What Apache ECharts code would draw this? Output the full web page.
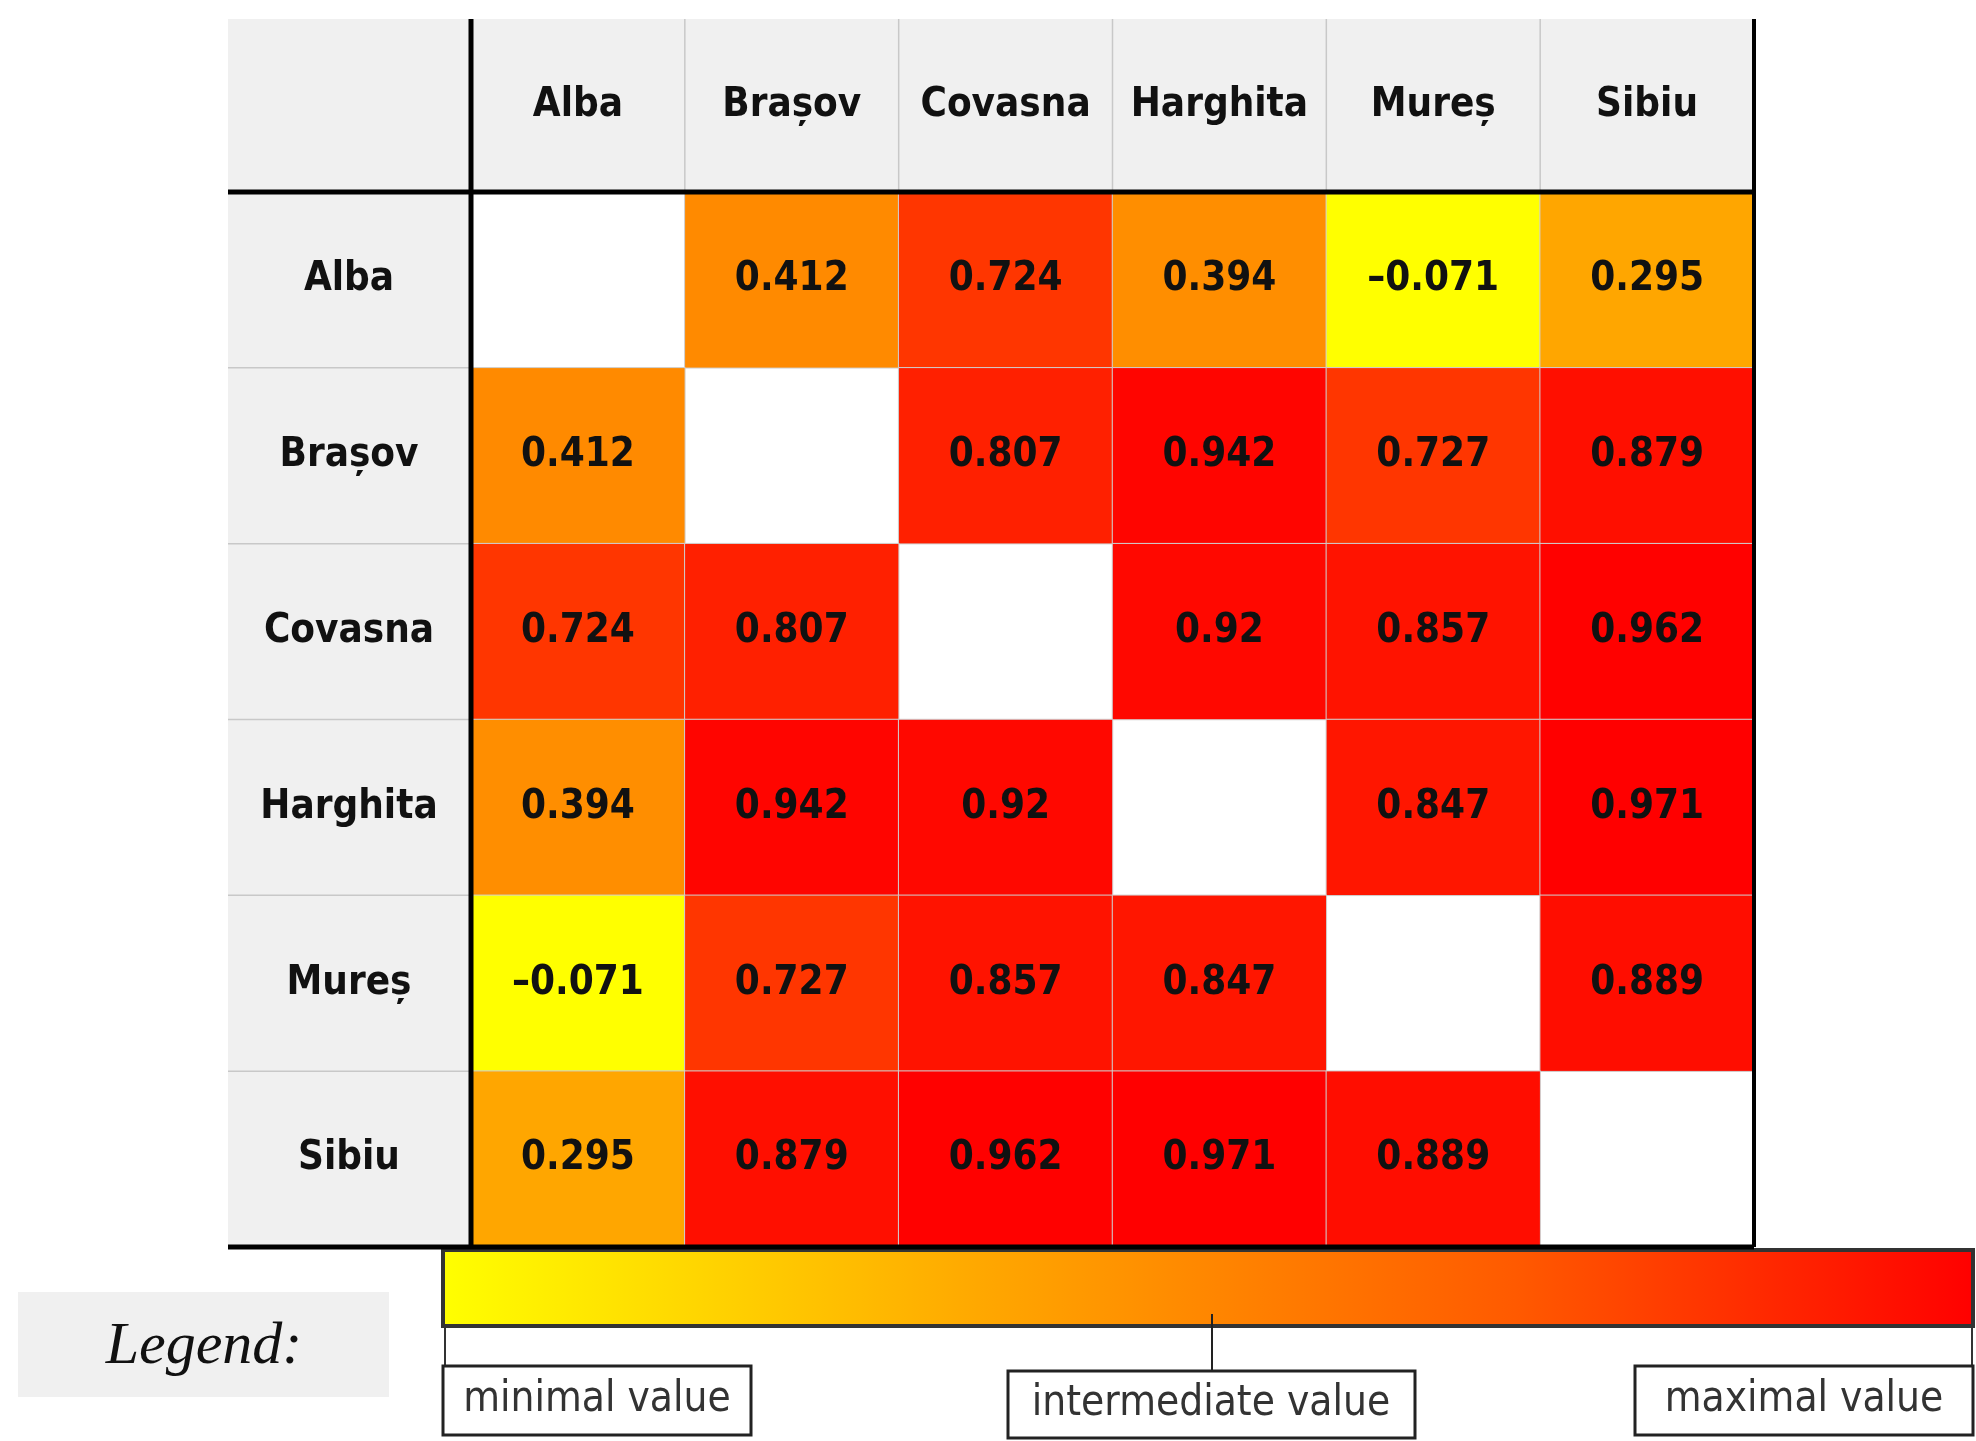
<!DOCTYPE html>
<html>
<head>
<meta charset="utf-8">
<script src="https://cdn.jsdelivr.net/npm/echarts@6/dist/echarts.min.js"></script>
<style>html,body{margin:0;background:#fff}#main{width:1976px;height:1441px}</style>
</head>
<body>
<div id="main"></div>
<script>
const counties = ["Alba", "Brașov", "Covasna", "Harghita", "Mureș", "Sibiu"]
const rowAlba = [null, 0.412, 0.724, 0.394, -0.071, 0.295]
const rowBrasov = [0.412, null, 0.807, 0.942, 0.727, 0.879]
const rowCovasna = [0.724, 0.807, null, 0.92, 0.857, 0.962]
const rowHarghita = [0.394, 0.942, 0.92, null, 0.847, 0.971]
const rowMures = [-0.071, 0.727, 0.857, 0.847, null, 0.889]
const rowSibiu = [0.295, 0.879, 0.962, 0.971, 0.889, null]
const legendLabels = ["minimal value", "intermediate value", "maximal value"]

const rows = [rowAlba, rowBrasov, rowCovasna, rowHarghita, rowMures, rowSibiu]
let data = []
rows.forEach((row, r) => {
  row.forEach((v, c) => {
    if (v !== null) data.push([c, r, v])
  })
})

const font = "DejaVu Sans Condensed"
const L = 228, X0 = 471, X1 = 1754, T = 19, Y0 = 192, Y1 = 1247

let myChart = echarts.init(document.getElementById("main"))

// light separators in the header row / column
let seps = []
for (let i = 1; i < 6; i++) {
  let x = X0 + (X1 - X0) * i / 6
  seps.push({ type: "line", shape: { x1: x, y1: T, x2: x, y2: Y0 }, style: { stroke: "#c8c8c8", lineWidth: 1.5 } })
  let y = Y0 + (Y1 - Y0) * i / 6
  seps.push({ type: "line", shape: { x1: L, y1: y, x2: X0, y2: y }, style: { stroke: "#c8c8c8", lineWidth: 1.5 } })
}

myChart.setOption({
  animation: false,
  backgroundColor: "#fff",
  grid: { left: X0, right: 1976 - X1, top: Y0, bottom: 1441 - Y1 },
  xAxis: {
    type: "category",
    data: counties,
    position: "top",
    axisLine: { show: false },
    axisTick: { show: false },
    splitArea: { show: false },
    axisLabel: { interval: 0, fontFamily: font, fontWeight: "bold", fontSize: 40, color: "#111", margin: 86, verticalAlign: "middle" },
  },
  yAxis: {
    type: "category",
    data: counties,
    inverse: true,
    axisLine: { show: false },
    axisTick: { show: false },
    axisLabel: { interval: 0, fontFamily: font, fontWeight: "bold", fontSize: 40, color: "#111", margin: 122, align: "center" },
  },
  visualMap: {
    show: false,
    min: -0.071,
    max: 0.971,
    inRange: {
      color: ["#ffff00", "#ffe500", "#ffcc00", "#ffb200", "#ff9a00", "#ff8100", "#ff6500", "#ff4a00", "#ff2b00", "#ff1100", "#ff0000"],
    },
  },
  series: [
    {
      type: "heatmap",
      data: data,
      itemStyle: { borderColor: "#d0d0d0", borderWidth: 1 },
      label: {
        show: true,
        fontFamily: font,
        fontWeight: "bold",
        fontSize: 40,
        color: "#111",
        formatter: (p) => String(p.value[2]).replace("-", "–"),
      },
      z: 5,
    },
  ],
  graphic: [
    { type: "rect", z: -10, shape: { x: L, y: T, width: X1 - L, height: Y0 - T }, style: { fill: "#f0f0f0" } },
    { type: "rect", z: -10, shape: { x: L, y: Y0, width: X0 - L, height: Y1 - Y0 }, style: { fill: "#f0f0f0" } },
    ...seps,
    { type: "line", z: 100, shape: { x1: X0, y1: T, x2: X0, y2: Y1 }, style: { stroke: "#000", lineWidth: 5 } },
    { type: "line", z: 100, shape: { x1: L, y1: Y0, x2: X1, y2: Y0 }, style: { stroke: "#000", lineWidth: 5 } },
    { type: "line", z: 100, shape: { x1: L, y1: Y1, x2: X1, y2: Y1 }, style: { stroke: "#000", lineWidth: 5 } },
    { type: "line", z: 100, shape: { x1: X1, y1: T, x2: X1, y2: Y1 }, style: { stroke: "#000", lineWidth: 4 } },
    // legend
    { type: "rect", shape: { x: 18, y: 1292, width: 371, height: 105 }, style: { fill: "#f0f0f0" } },
    { type: "text", x: 204, y: 1347, style: { text: "Legend:", font: "italic 60px 'Liberation Serif'", fill: "#111", align: "center", verticalAlign: "middle" } },
    {
      type: "rect",
      shape: { x: 443, y: 1250, width: 1530, height: 76 },
      style: {
        fill: new echarts.graphic.LinearGradient(0, 0, 1, 0, [
          { offset: 0, color: "#ffff00" },
          { offset: 0.35, color: "#ffa800" },
          { offset: 0.7, color: "#ff5a00" },
          { offset: 1, color: "#ff0000" },
        ]),
        stroke: "#333",
        lineWidth: 4,
      },
    },
    { type: "line", shape: { x1: 445, y1: 1326, x2: 445, y2: 1366 }, style: { stroke: "#333", lineWidth: 2 } },
    { type: "line", shape: { x1: 1972, y1: 1326, x2: 1972, y2: 1366 }, style: { stroke: "#333", lineWidth: 2 } },
    { type: "line", shape: { x1: 1212, y1: 1314, x2: 1212, y2: 1371 }, style: { stroke: "#222", lineWidth: 2 } },
    { type: "rect", shape: { x: 443, y: 1366, width: 308, height: 69 }, style: { fill: "#fff", stroke: "#222", lineWidth: 3 } },
    { type: "rect", shape: { x: 1008, y: 1371, width: 407, height: 67 }, style: { fill: "#fff", stroke: "#222", lineWidth: 3 } },
    { type: "rect", shape: { x: 1635, y: 1366, width: 338, height: 69 }, style: { fill: "#fff", stroke: "#222", lineWidth: 3 } },
    { type: "text", x: 597, y: 1400, style: { text: legendLabels[0], font: "42px 'DejaVu Sans Condensed'", fill: "#333", align: "center", verticalAlign: "middle" } },
    { type: "text", x: 1211, y: 1404, style: { text: legendLabels[1], font: "42px 'DejaVu Sans Condensed'", fill: "#333", align: "center", verticalAlign: "middle" } },
    { type: "text", x: 1804, y: 1400, style: { text: legendLabels[2], font: "42px 'DejaVu Sans Condensed'", fill: "#333", align: "center", verticalAlign: "middle" } },
  ],
})

window.addEventListener("resize", () => {
  myChart.resize()
})
</script>
</body>
</html>
